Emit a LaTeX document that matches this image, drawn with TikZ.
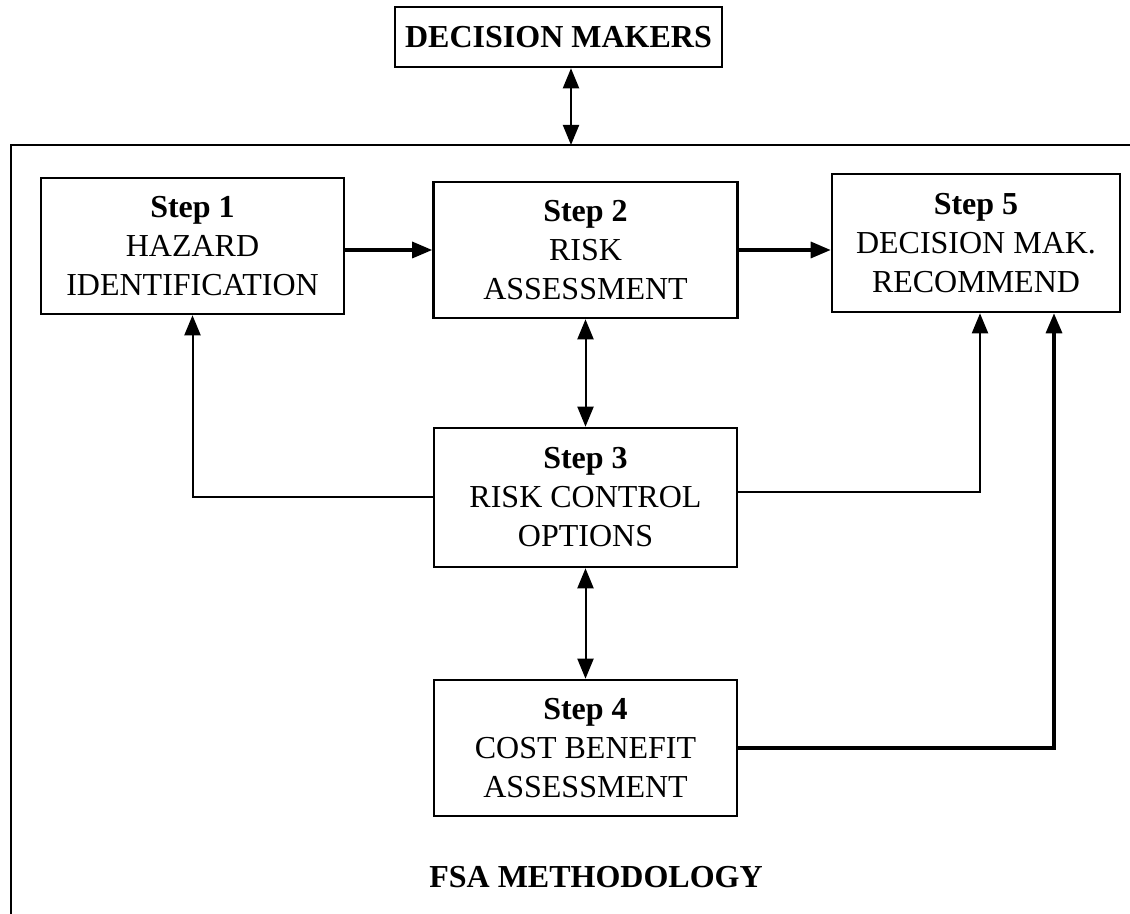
\documentclass[tikz,border=0pt]{standalone}
\usepackage{fontspec}
\setmainfont{Liberation Serif}
\usetikzlibrary{arrows.meta}

\begin{document}
\begin{tikzpicture}[x=0.5pt,y=0.5pt,
    stepbox/.style={draw,line width=1.3pt,align=center,inner sep=0pt,
      font=\fontsize{16}{19.5}\selectfont,minimum width=151.5pt,minimum height=68pt},
    link/.style={line width=1pt,-{Triangle[length=10pt,width=8pt]}},
    both/.style={line width=1pt,{Triangle[length=10pt,width=8pt]}-{Triangle[length=10pt,width=8pt]}}]
    \useasboundingbox (0,0) rectangle (1130,914);
    \draw[line width=1.2pt] (1130,769) -- (11,769) -- (11,0);
    \coordinate (ftop) at (571,769);
    \node[draw,line width=1.3pt,font=\fontsize{16}{19.5}\selectfont\bfseries,
      minimum width=163.5pt,minimum height=30pt] (dm) at (558.5,877) {DECISION MAKERS};
    \node[stepbox] (s1) at (192.5,668) {\textbf{Step 1}\\HAZARD\\IDENTIFICATION};
    \node[stepbox,minimum width=152pt] (s2) at (585.5,664) {\textbf{Step 2}\\RISK\\ASSESSMENT};
    \node[stepbox,minimum width=144pt,minimum height=69pt] (s5) at (976,671) {\textbf{Step 5}\\DECISION MAK.\\RECOMMEND};
    \node[stepbox,minimum height=69.5pt] (s3) at (585.5,416.5) {\textbf{Step 3}\\RISK CONTROL\\OPTIONS};
    \node[stepbox] (s4) at (585.5,166) {\textbf{Step 4}\\COST BENEFIT\\ASSESSMENT};
    \node[font=\fontsize{16}{19.5}\selectfont\bfseries] (fsa) at (596,37) {FSA METHODOLOGY};
    \draw[both] (dm.south -| ftop) -- (ftop);
    \draw[link,line width=1.6pt] (s1.east |- s2.west) -- (s2.west);
    \draw[link,line width=1.6pt] (s2.east) -- (s2.east -| s5.west);
    \foreach \a/\b in {s2/s3,s3/s4}
    \draw[both] (\a.south) -- (\b.north);
    \draw[link] (s3.west) -| (s1.south);
    \draw[link] ([yshift=2.5pt]s3.east) -| ([xshift=2pt]s5.south);
    \draw[link,line width=1.6pt] (s4.east) -| ([xshift=39pt]s5.south);
\end{tikzpicture}
\end{document}
